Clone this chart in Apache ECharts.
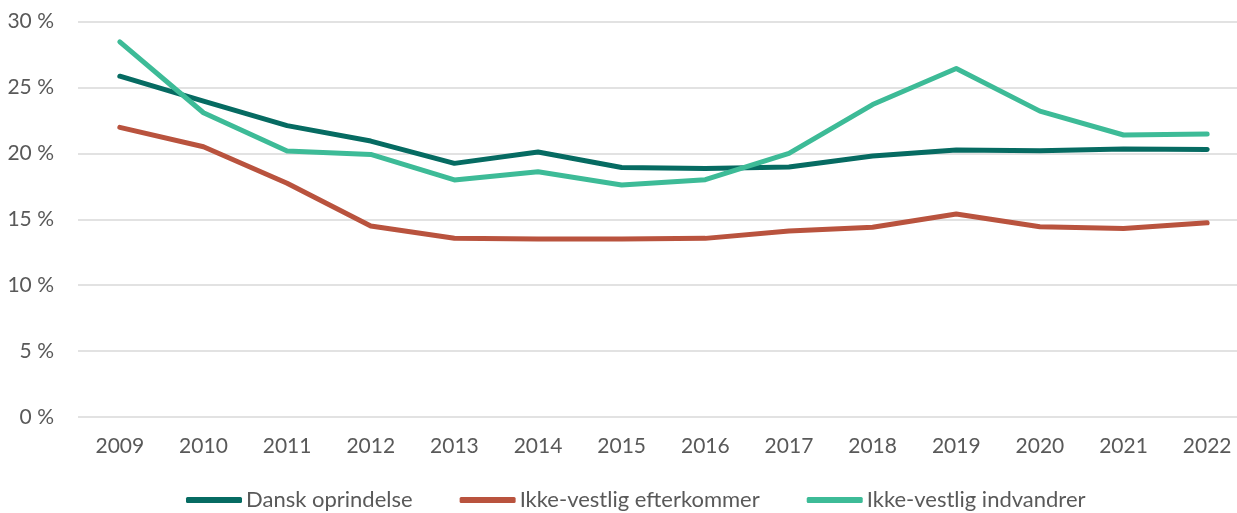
<!DOCTYPE html>
<html>
<head>
<meta charset="utf-8">
<script src="https://cdn.jsdelivr.net/npm/echarts@6/dist/echarts.min.js"></script>
<style>
  html, body { margin: 0; padding: 0; background: #fff; }
  #chart { width: 1237px; height: 513px; }
</style>
</head>
<body>
<div id="chart"></div>
<script>
const years = ['2009', '2010', '2011', '2012', '2013', '2014', '2015', '2016', '2017', '2018', '2019', '2020', '2021', '2022'];
const danskOprindelse = [25.85, 23.96, 22.1, 20.93, 19.24, 20.1, 18.93, 18.85, 18.97, 19.8, 20.25, 20.2, 20.33, 20.3];
const ikkeVestligEfterkommer = [21.97, 20.5, 17.73, 14.49, 13.56, 13.5, 13.5, 13.55, 14.1, 14.4, 15.4, 14.43, 14.3, 14.73];
const ikkeVestligIndvandrer = [28.45, 23.08, 20.17, 19.92, 17.98, 18.6, 17.6, 18.0, 20.0, 23.7, 26.44, 23.2, 21.39, 21.46];

const COLOR = {
  dansk: '#066b62',
  efterkommer: '#b9533e',
  indvandrer: '#3dbb97',
  grid: '#d9d9d9',
  text: '#595959'
};
const FONT = 'Lato';

function lineSeries(name, data, color) {
  return {
    name: name,
    type: 'line',
    data: data,
    symbol: 'none',
    lineStyle: { width: 5, color: color, cap: 'round', join: 'round' },
    itemStyle: { color: color },
    animation: false
  };
}

let chart = echarts.init(document.getElementById('chart'));
let option = {
  grid: {
    left: 78,
    top: 21.5,
    width: 1171,
    height: 395.5,
    containLabel: false,
    outerBoundsMode: 'none'
  },
  legend: {
    left: 186,
    top: 489,
    padding: 0,
    itemWidth: 56,
    itemHeight: 6,
    itemGap: 47,
    icon: 'roundRect',
    textStyle: { fontFamily: FONT, fontSize: 22, color: COLOR.text, padding: [0, 0, 0, -1] },
    data: ['Dansk oprindelse', 'Ikke-vestlig efterkommer', 'Ikke-vestlig indvandrer']
  },
  xAxis: {
    type: 'category',
    data: years,
    boundaryGap: true,
    axisLine: { show: false },
    axisTick: { show: false },
    axisLabel: { fontFamily: FONT, fontSize: 21, color: COLOR.text, margin: 19 }
  },
  yAxis: {
    type: 'value',
    min: 0,
    max: 30,
    interval: 5,
    axisLine: { show: false },
    axisTick: { show: false },
    splitLine: { lineStyle: { color: COLOR.grid, width: 1.5 } },
    axisLabel: {
      fontFamily: FONT, fontSize: 21, color: COLOR.text, margin: 24,
      formatter: '{value} %'
    }
  },
  series: [
    lineSeries('Dansk oprindelse', danskOprindelse, COLOR.dansk),
    lineSeries('Ikke-vestlig efterkommer', ikkeVestligEfterkommer, COLOR.efterkommer),
    lineSeries('Ikke-vestlig indvandrer', ikkeVestligIndvandrer, COLOR.indvandrer)
  ]
};
chart.setOption(option);
window.addEventListener('resize', () => { chart.resize(); });
</script>
</body>
</html>
